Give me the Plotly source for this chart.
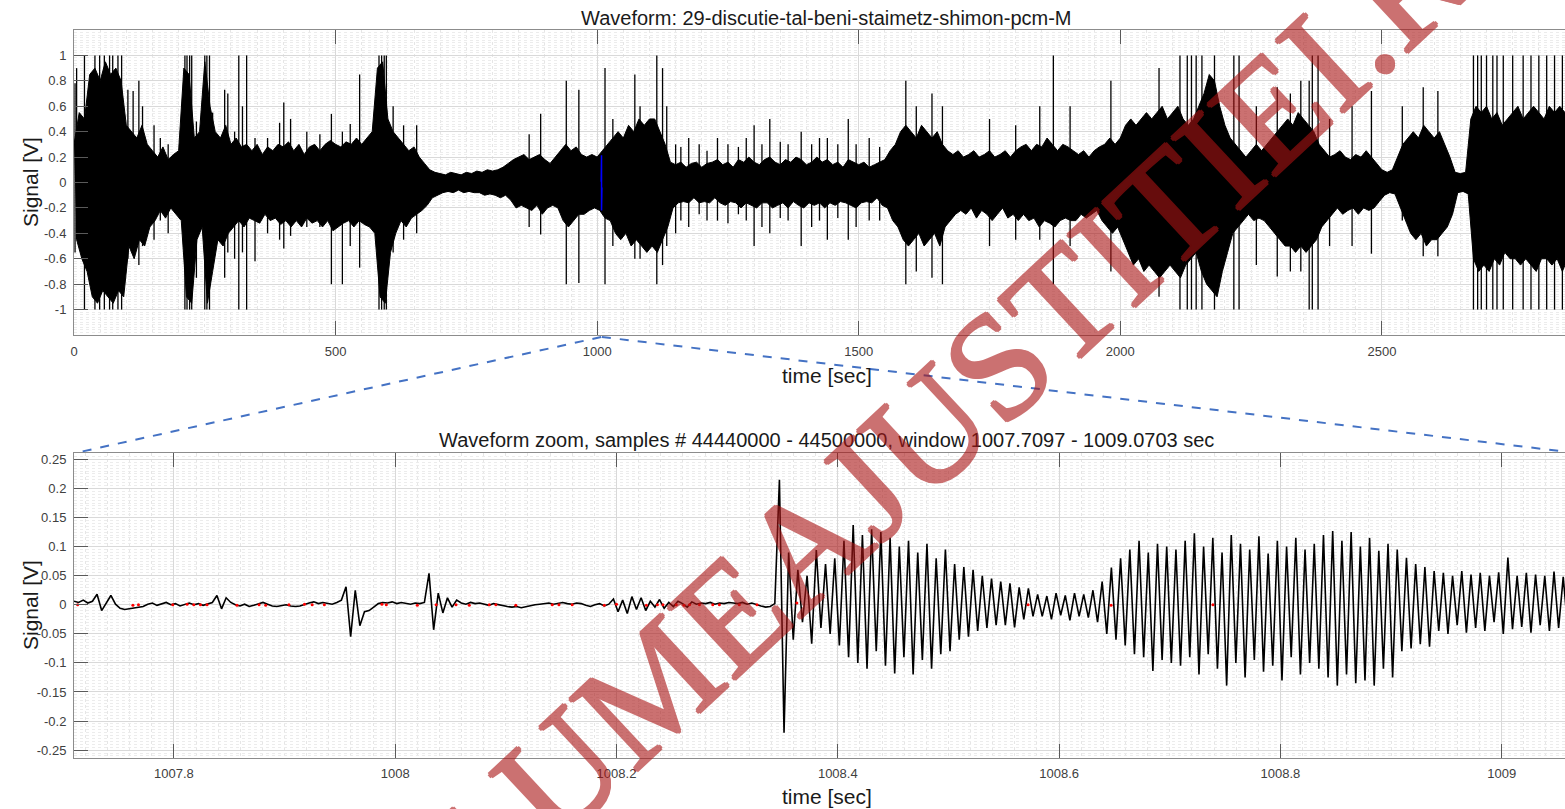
import plotly.graph_objects as go

# ---------------- data ----------------
top_title = "Waveform: 29-discutie-tal-beni-staimetz-shimon-pcm-M"
zoom_title = "Waveform zoom, samples # 44440000 - 44500000, window 1007.7097 - 1009.0703 sec"
x_label = "time [sec]"
y_label = "Signal [V]"
watermark = "LUMEAJUSTITIEI.RO"

fs = 44100
zoom_first_sample = 44440000
zoom_last_sample = 44500000

top_xticks = [0, 500, 1000, 1500, 2000, 2500]
top_yticks = [-1, -0.8, -0.6, -0.4, -0.2, 0, 0.2, 0.4, 0.6, 0.8, 1]
zoom_xticks = [1007.8, 1008, 1008.2, 1008.4, 1008.6, 1008.8, 1009]
zoom_yticks = [-0.25, -0.2, -0.15, -0.1, -0.05, 0, 0.05, 0.1, 0.15, 0.2, 0.25]

# full recording: max / min of the signal in consecutive 10 s blocks (V)
env_step = 10
env_hi = [
    0.30, 0.55, 0.50, 0.85, 0.90, 0.80, 0.95, 0.85, 0.90, 0.80,
    0.45, 0.40, 0.35, 0.45, 0.30, 0.25, 0.20, 0.28, 0.18, 0.22,
    0.25, 0.90, 0.85, 0.35, 0.40, 0.95, 0.60, 0.40, 0.35, 0.45,
    0.30, 0.35, 0.28, 0.30, 0.25, 0.30, 0.22, 0.28, 0.25, 0.30,
    0.28, 0.32, 0.25, 0.30, 0.22, 0.28, 0.30, 0.25, 0.30, 0.33,
    0.30, 0.28, 0.32, 0.30, 0.35, 0.30, 0.35, 0.40, 0.90, 0.95,
    0.50, 0.40, 0.35, 0.30, 0.25, 0.28, 0.20, 0.15, 0.10, 0.08,
    0.07, 0.06, 0.08, 0.07, 0.06, 0.08, 0.07, 0.09, 0.08, 0.10,
    0.09, 0.10, 0.12, 0.15, 0.18, 0.20, 0.22, 0.18, 0.20, 0.22,
    0.18, 0.15, 0.20, 0.25, 0.30, 0.25, 0.28, 0.22, 0.20, 0.22,
    0.20, 0.25, 0.30, 0.35, 0.40, 0.35, 0.45, 0.40, 0.50, 0.45,
    0.50, 0.50, 0.40, 0.30, 0.16, 0.14, 0.16, 0.12, 0.15, 0.16,
    0.12, 0.15, 0.16, 0.18, 0.14, 0.16, 0.12, 0.18, 0.16, 0.20,
    0.16, 0.14, 0.18, 0.20, 0.16, 0.14, 0.18, 0.16, 0.20, 0.18,
    0.14, 0.16, 0.20, 0.16, 0.18, 0.14, 0.16, 0.12, 0.18, 0.16,
    0.14, 0.16, 0.12, 0.14, 0.16, 0.18, 0.25, 0.30, 0.40, 0.45,
    0.40, 0.35, 0.45, 0.40, 0.35, 0.40, 0.30, 0.25, 0.22, 0.25,
    0.20, 0.22, 0.25, 0.20, 0.22, 0.25, 0.20, 0.22, 0.25, 0.20,
    0.25, 0.28, 0.30, 0.25, 0.30, 0.28, 0.35, 0.30, 0.25, 0.30,
    0.28, 0.25, 0.22, 0.25, 0.20, 0.25, 0.28, 0.30, 0.35, 0.30,
    0.35, 0.45, 0.50, 0.45, 0.50, 0.55, 0.50, 0.55, 0.60, 0.50,
    0.55, 0.60, 0.50, 0.45, 0.50, 0.60, 0.70, 0.85, 0.80, 0.60,
    0.45, 0.35, 0.30, 0.25, 0.20, 0.25, 0.30, 0.25, 0.30, 0.35,
    0.40, 0.45, 0.50, 0.45, 0.55, 0.50, 0.45, 0.40, 0.30, 0.25,
    0.20, 0.22, 0.25, 0.20, 0.18, 0.22, 0.20, 0.25, 0.20, 0.15,
    0.10, 0.08, 0.10, 0.20, 0.30, 0.35, 0.40, 0.35, 0.45, 0.40,
    0.35, 0.40, 0.30, 0.20, 0.08, 0.07, 0.08, 0.50, 0.60, 0.55,
    0.60, 0.50, 0.55, 0.45, 0.50, 0.55, 0.60, 0.50, 0.55, 0.60,
    0.55, 0.50, 0.60, 0.55, 0.60, 0.55,
]
env_lo = [
    -0.45, -0.60, -0.70, -0.90, -0.95, -0.85, -0.90, -0.95, -0.85, -0.90,
    -0.50, -0.60, -0.45, -0.50, -0.35, -0.30, -0.22, -0.28, -0.20, -0.25,
    -0.30, -0.90, -0.95, -0.45, -0.35, -0.95, -0.70, -0.45, -0.50, -0.40,
    -0.35, -0.30, -0.35, -0.28, -0.30, -0.32, -0.25, -0.30, -0.28, -0.33,
    -0.30, -0.35, -0.30, -0.35, -0.28, -0.32, -0.30, -0.35, -0.30, -0.38,
    -0.35, -0.32, -0.30, -0.35, -0.30, -0.33, -0.35, -0.40, -0.90, -0.95,
    -0.55, -0.40, -0.30, -0.35, -0.28, -0.25, -0.22, -0.18, -0.12, -0.10,
    -0.08, -0.07, -0.08, -0.06, -0.08, -0.07, -0.08, -0.08, -0.10, -0.09,
    -0.10, -0.12, -0.10, -0.14, -0.20, -0.18, -0.20, -0.22, -0.18, -0.25,
    -0.20, -0.18, -0.20, -0.30, -0.35, -0.30, -0.25, -0.25, -0.22, -0.20,
    -0.22, -0.28, -0.30, -0.40, -0.45, -0.40, -0.50, -0.45, -0.50, -0.55,
    -0.50, -0.55, -0.45, -0.35, -0.20, -0.16, -0.15, -0.16, -0.12, -0.16,
    -0.15, -0.16, -0.12, -0.16, -0.18, -0.15, -0.16, -0.20, -0.16, -0.18,
    -0.20, -0.16, -0.16, -0.20, -0.18, -0.16, -0.20, -0.15, -0.18, -0.20,
    -0.16, -0.18, -0.16, -0.20, -0.16, -0.18, -0.15, -0.16, -0.18, -0.20,
    -0.16, -0.15, -0.16, -0.12, -0.18, -0.20, -0.30, -0.35, -0.45, -0.50,
    -0.45, -0.40, -0.50, -0.45, -0.40, -0.50, -0.35, -0.30, -0.25, -0.22,
    -0.25, -0.20, -0.28, -0.22, -0.25, -0.30, -0.25, -0.20, -0.28, -0.25,
    -0.30, -0.25, -0.30, -0.28, -0.35, -0.30, -0.32, -0.35, -0.30, -0.28,
    -0.30, -0.30, -0.25, -0.28, -0.25, -0.22, -0.30, -0.35, -0.40, -0.35,
    -0.45, -0.55, -0.65, -0.60, -0.70, -0.65, -0.70, -0.75, -0.70, -0.65,
    -0.70, -0.75, -0.65, -0.60, -0.55, -0.70, -0.80, -0.85, -0.90, -0.70,
    -0.55, -0.40, -0.35, -0.30, -0.25, -0.30, -0.28, -0.30, -0.35, -0.40,
    -0.45, -0.50, -0.50, -0.55, -0.50, -0.55, -0.50, -0.45, -0.35, -0.30,
    -0.25, -0.20, -0.25, -0.22, -0.20, -0.25, -0.20, -0.22, -0.20, -0.15,
    -0.10, -0.08, -0.09, -0.20, -0.30, -0.40, -0.45, -0.40, -0.50, -0.45,
    -0.45, -0.40, -0.35, -0.25, -0.08, -0.07, -0.09, -0.60, -0.70, -0.65,
    -0.70, -0.60, -0.65, -0.55, -0.60, -0.60, -0.65, -0.60, -0.65, -0.70,
    -0.60, -0.60, -0.65, -0.60, -0.70, -0.60,
]

# isolated peaks of the full recording (seconds, max V, min V)
spike_t = [2, 5, 20, 26, 40, 49, 58, 68, 74, 84, 91, 103, 113, 124, 131, 153, 165, 180, 212, 216, 221,
           225, 234, 250, 254, 259, 265, 288, 294, 307, 315, 322, 330, 346, 370, 393, 401, 414, 445, 470,
           492, 513, 528, 546, 583, 588, 593, 597, 610, 630, 655, 870, 892, 941, 965, 1015, 1030, 1072,
           1082, 1114, 1125, 1133, 1150, 1175, 1230, 1300, 1330, 1390, 1440, 1480, 1520, 1590, 1610,
           1640, 1660, 1750, 1800, 1846, 1872, 1904, 1982, 2074, 2114, 2128, 2136, 2145, 2156, 2180,
           2217, 2227, 2260, 2300, 2325, 2345, 2361, 2367, 2378, 2400, 2443, 2480, 2539, 2579, 2607,
           2675, 2683, 2690, 2700, 2712, 2720, 2732, 2750, 2770, 2785, 2800, 2815, 2830, 2845,
           1160, 1195, 1210, 1250, 1270, 1285, 1315, 1350, 1365, 1410, 1425, 1460, 1495, 1540]
spike_hi = [0.78, 0.9, 1, 0.6, 1, 1, 1, 1, 1, 1, 1, 0.73, 0.72, 0.8, 0.6, 0.45, 0.35, 0.3, 1, 1, 1,
            1, 0.48, 1, 1, 1, 0.55, 0.73, 0.7, 0.4, 1, 0.6, 1, 0.35, 0.35, 0.47, 0.63, 0.5, 0.4, 0.38,
            0.54, 0.4, 0.46, 0.85, 1, 1, 1, 1, 0.6, 0.45, 0.45, 0.38, 0.54, 0.8, 0.73, 0.9, 0.5, 0.85,
            0.6, 1, 0.9, 0.6, 0.3, 0.35, 0.35, 0.45, 0.5, 0.4, 0.35, 0.5, 0.35, 0.8, 0.6,
            0.7, 0.6, 0.5, 0.45, 0.6, 1, 0.6, 0.8, 0.9, 1, 1, 1, 1, 1, 1,
            1, 1, 0.6, 0.75, 0.7, 0.8, 0.8, 1, 1, 0.5, 0.6, 0.72, 0.6, 0.75, 0.72,
            1, 1, 1, 1, 1, 1, 1, 1, 1, 1, 1, 1, 1, 1,
            0.28, 0.3, 0.25, 0.3, 0.28, 0.35, 0.3, 0.32, 0.3, 0.3, 0.35, 0.3, 0.3, 0.28]
spike_lo = [-0.55, -0.45, -1, -0.6, -1, -1, -1, -1, -1, -1, -1, -0.6, -0.55, -0.65, -0.5, -0.45, -0.3, -0.4,
            -1, -1, -1, -1, -0.75, -1, -1, -1, -0.6, -0.75, -0.55, -0.6, -1, -0.55, -1, -0.62, -0.4, -0.45,
            -0.52, -0.42, -0.35, -0.35, -0.8, -0.8, -0.5, -0.67, -1, -1, -1, -1, -0.55, -0.45, -0.4, -0.35,
            -0.41, -0.8, -0.79, -0.8, -0.5, -0.6, -0.6, -0.8, -0.65, -0.5, -0.4, -0.35, -0.3, -0.5, -0.4,
            -0.5, -0.45, -0.45, -0.3, -0.8, -0.7, -0.75, -0.8, -0.5, -0.45, -0.45, -0.8, -0.5, -0.7, -0.9,
            -1, -1, -1, -1, -1, -1, -1, -1, -0.65, -0.74, -0.7, -0.7, -1, -1, -1, -0.5, -0.5, -0.56,
            -0.3, -0.58, -0.58, -1, -1, -1, -1, -1, -1, -1, -1, -1, -1, -1, -1, -1, -1,
            -0.3, -0.25, -0.3, -0.32, -0.25, -0.3, -0.35, -0.28, -0.3, -0.35, -0.3, -0.28, -0.35, -0.3]

# zoom window, decimated to 240 samples per second (V)
zoom_rate = 240
zoom_v = [
    0.006, 0.004, 0.008, 0.003, 0.006, 0.018, -0.010, 0.003, 0.016, 0.001, -0.006, -0.008, -0.007,
    -0.006, -0.004, -0.003, 0.001, 0.003, -0.001, 0.002, 0.004, 0.000, 0.002, -0.002, 0.001, 0.003,
    0.000, 0.002, -0.001, 0.001,
    0.004, 0.016, -0.007, 0.012, 0.004, 0.000,
    -0.002, 0.001, -0.003, -0.001, 0.002, 0.004, 0.001, -0.002, -0.003, -0.001, 0.000, -0.002, -0.003,
    -0.002, 0.001, 0.003, 0.005, 0.002, 0.004, 0.003, 0.001, 0.004,
    0.008, 0.031, -0.055, 0.025, -0.036, -0.012, -0.010,
    -0.004, 0.002, 0.004, 0.003, 0.005, 0.002, 0.004, 0.003, 0.001, 0.003, 0.002, 0.004,
    0.054, -0.043, 0.020, -0.014, 0.012, -0.004, 0.008,
    0.003, 0.001, 0.004, 0.002, 0.003, 0.001, -0.001, 0.002, 0.000, -0.002, -0.003, -0.004, -0.003,
    -0.005, -0.003, -0.002, 0.000, 0.001, 0.002, 0.003, 0.001, 0.002, 0.004, 0.002, 0.001, 0.003,
    0.002, -0.001, -0.003, 0.000, 0.002, -0.002, 0.001,
    0.010, -0.012, 0.008, -0.015, 0.014, -0.008, 0.012, -0.010, 0.006, -0.004, 0.009, -0.006, 0.004,
    -0.003, 0.006, 0.002, -0.004, 0.005, 0.001, 0.003,
    0.002, 0.004, 0.001, 0.003, 0.002, 0.004, 0.003, 0.002, 0.004, 0.001, 0.003, 0.000, -0.002,
    -0.004, -0.003, 0.002,
    0.215, -0.220, 0.090, -0.060, 0.060, -0.030, 0.050, -0.067, 0.094, -0.040, 0.070, -0.050, 0.080,
    -0.070, 0.110, -0.090, 0.137, -0.100, 0.120, -0.110, 0.130, -0.080, 0.125, -0.105, 0.115,
    -0.118, 0.100, -0.090, 0.110, -0.120, 0.090, -0.095, 0.105, -0.110, 0.080, -0.085, 0.095, -0.080,
    0.070, -0.060, 0.065, -0.055, 0.060, -0.045, 0.050, -0.040, 0.045, -0.035, 0.040,
    -0.035, 0.037, -0.039, 0.030, -0.025, 0.028, -0.020,
    0.018, -0.020, 0.015, -0.025, 0.020, -0.018, 0.016, -0.027, 0.020, -0.020, 0.018, -0.022, 0.025,
    -0.030, 0.040,
    -0.050, 0.064, -0.060, 0.080, -0.070, 0.095, -0.085, 0.110, -0.090, 0.090, -0.114, 0.105, -0.095,
    0.100, -0.100, 0.095, -0.105,
    0.110, -0.090, 0.123, -0.120, 0.100, -0.085, 0.115, -0.110, 0.090, -0.139, 0.120, -0.100, 0.105,
    -0.125, 0.095, -0.095, 0.118, -0.115, 0.088, -0.105, 0.110, -0.130, 0.100, -0.090, 0.115, -0.120,
    0.095, -0.100, 0.105, -0.110, 0.120,
    -0.125, 0.127, -0.139, 0.110, -0.120, 0.125, -0.135, 0.100, -0.130, 0.115, -0.139, 0.093, -0.110,
    0.105, -0.125, 0.095,
    -0.080, 0.081, -0.075, 0.070, -0.068, 0.065, -0.072, 0.058,
    -0.045, 0.055, -0.050, 0.050, -0.035, 0.058, -0.048, 0.052, -0.040, 0.055, -0.045, 0.050, -0.030,
    0.056, -0.050, 0.081, -0.042, 0.050, -0.038, 0.055, -0.048, 0.052, -0.035, 0.050, -0.045, 0.057,
    -0.040, 0.048, -0.044, 0.050, -0.040,
]

# marked near-zero samples (red dots)
red_t = [1007.713, 1007.763, 1007.768, 1007.799, 1007.812, 1007.818, 1007.824, 1007.830, 1007.857,
         1007.877, 1007.883, 1007.904, 1007.918, 1007.925, 1007.936, 1007.988, 1007.992, 1008.020,
         1008.037, 1008.055, 1008.067, 1008.085, 1008.091, 1008.109, 1008.142, 1008.148, 1008.160,
         1008.189, 1008.200, 1008.227, 1008.237, 1008.242, 1008.254, 1008.261, 1008.266, 1008.275,
         1008.287, 1008.293, 1008.311, 1008.327, 1008.363, 1008.572, 1008.647, 1008.739]
red_v = [0.0, -0.001, 0.0, 0.0, 0.001, 0.0, 0.0, 0.0, -0.001, 0.0, -0.001, 0.0, 0.001, 0.0, 0.0, 0.001,
         0.0, -0.001, 0.0, 0.0, -0.001, 0.0, 0.0, -0.001, 0.0, 0.0, 0.0, -0.001, 0.001, -0.001, 0.0, 0.0,
         0.0, -0.001, 0.0, 0.0, 0.0, 0.0, 0.0, 0.0, 0.003, 0.0, -0.001, 0.0]

# ---------------- figure ----------------
W, H = 1565, 809
ML, MR, MT, MB = 74, 0, 30, 51
PW, PH = W - ML - MR, H - MT - MB


def fx(px):
    return (px - ML) / PW


def fy(py):
    return (H - MB - py) / PH


top_dom = [fy(335), fy(30)]
bot_dom = [fy(757.7), fy(453.3)]

win_t0 = zoom_first_sample / fs
win_t1 = zoom_last_sample / fs
top_range = [0, 2850]
zoom_range = [win_t0, win_t0 + (win_t1 - win_t0) * PW / 1505.5]

zoom_x = [win_t0 + i / zoom_rate for i in range(len(zoom_v))]

# block max / min as a filled band (max at block start, min half a block later)
hx = [i * env_step for i in range(len(env_hi))]
lx = [i * env_step + env_step / 2 for i in range(len(env_lo))]

fig = go.Figure()
fig.add_trace(go.Scatter(x=hx + lx[::-1], y=env_hi + env_lo[::-1], fill="toself", fillcolor="black",
                         mode="lines", line=dict(color="black", width=1), hoverinfo="skip",
                         xaxis="x", yaxis="y"))
sx, sy = [], []
for t, hi, lo in zip(spike_t, spike_hi, spike_lo):
    sx += [t, t, None]
    sy += [hi, lo, None]
fig.add_trace(go.Scatter(x=sx, y=sy, mode="lines", line=dict(color="black", width=1.3),
                         xaxis="x", yaxis="y"))
fig.add_trace(go.Scatter(x=zoom_x, y=zoom_v, mode="lines", line=dict(color="#0000ff", width=1.5),
                         xaxis="x", yaxis="y"))
fig.add_trace(go.Scatter(x=zoom_x, y=zoom_v, mode="lines", line=dict(color="black", width=1.6),
                         xaxis="x2", yaxis="y2"))
fig.add_trace(go.Scatter(x=red_t, y=red_v, mode="markers", marker=dict(color="red", size=3),
                         xaxis="x2", yaxis="y2"))

tickfont = dict(family="Liberation Sans, Arial, sans-serif", size=13, color="#404040")
base = dict(showline=True, linecolor="#8c8c8c", linewidth=1, ticks="inside", ticklen=14,
            tickcolor="#5a5a5a", tickwidth=1, showgrid=True, gridcolor="#d9d9d9", gridwidth=1,
            zeroline=False, tickfont=tickfont, ticklabelstandoff=4)


def hy(v):
    return ("%g" % v).replace("\u2212", "-")


fig.update_layout(
    width=W, height=H, margin=dict(l=ML, r=MR, t=MT, b=MB, autoexpand=False),
    paper_bgcolor="white", plot_bgcolor="white", showlegend=False,
    xaxis=dict(base, domain=[0, 1], anchor="y", range=top_range, mirror="ticks",
               tickmode="array", tickvals=top_xticks, ticktext=[hy(v) for v in top_xticks],
               minor=dict(tick0=0, dtick=50, showgrid=True, gridcolor="#e6e6e6", griddash="dot")),
    yaxis=dict(base, domain=top_dom, anchor="x", range=[-1.2, 1.2],
               tickmode="array", tickvals=top_yticks, ticktext=[hy(v) for v in top_yticks],
               minor=dict(tick0=0, dtick=0.02, showgrid=True, gridcolor="#ececec", griddash="dot")),
    xaxis2=dict(base, domain=[0, 1], anchor="y2", range=zoom_range, mirror="ticks",
                tickmode="array", tickvals=zoom_xticks, ticktext=[hy(v) for v in zoom_xticks],
                minor=dict(tick0=1007.8, dtick=0.02, showgrid=True, gridcolor="#e6e6e6", griddash="dot")),
    yaxis2=dict(base, domain=bot_dom, anchor="x2", range=[-0.263, 0.2605],
                tickmode="array", tickvals=zoom_yticks, ticktext=[hy(v) for v in zoom_yticks],
                minor=dict(tick0=0, dtick=0.005, showgrid=True, gridcolor="#ececec", griddash="dot")),
)

# connector lines from the zoom window in the top plot to the zoom plot corners
top_bottom_y = top_dom[0] - 2 / PH
cx0 = (win_t0 - top_range[0]) / (top_range[1] - top_range[0])
cx1 = (win_t1 - top_range[0]) / (top_range[1] - top_range[0])
zx_end = (win_t1 - zoom_range[0]) / (zoom_range[1] - zoom_range[0])
for xa, xb in [(cx0, 0), (cx1, zx_end)]:
    fig.add_shape(type="line", xref="paper", yref="paper", x0=xa, y0=top_bottom_y, x1=xb,
                  y1=bot_dom[1], line=dict(color="#4472C4", width=2, dash="dash"))

font_txt = "Liberation Sans, Arial, sans-serif"
title_cx = zx_end / 2
ann = [
    dict(text=top_title, x=title_cx, y=fy(18), size=20),
    dict(text=x_label, x=title_cx, y=fy(375), size=21),
    dict(text=zoom_title, x=title_cx, y=fy(440), size=20),
    dict(text=x_label, x=title_cx, y=fy(796), size=21),
]
for a in ann:
    fig.add_annotation(text=a["text"], x=a["x"], y=a["y"], xref="paper", yref="paper",
                       showarrow=False, xanchor="center", yanchor="middle",
                       font=dict(family=font_txt, size=a["size"], color="#1a1a1a"))
for yc in [fy(182), fy(605)]:
    fig.add_annotation(text=y_label, x=fx(30), y=yc, xref="paper", yref="paper", showarrow=False,
                       textangle=-90, xanchor="center", yanchor="middle",
                       font=dict(family=font_txt, size=21, color="#1a1a1a"))

wm_col = "rgb(170,20,20)"
fig.add_annotation(text=watermark, x=fx(987), y=fy(375), xref="paper", yref="paper",
                   showarrow=False, textangle=-43, xanchor="center", yanchor="middle", opacity=0.6,
                   font=dict(family="Liberation Serif, Times New Roman, serif", size=151, color=wm_col,
                             shadow="1.5px 0 0 %s, -1.5px 0 0 %s, 0 1.5px 0 %s, 0 -1.5px 0 %s"
                             % (wm_col, wm_col, wm_col, wm_col)))

fig.write_html("out.html", config={"displayModeBar": False},
               post_script="document.body.style.margin='0';document.body.style.overflow='hidden';")
